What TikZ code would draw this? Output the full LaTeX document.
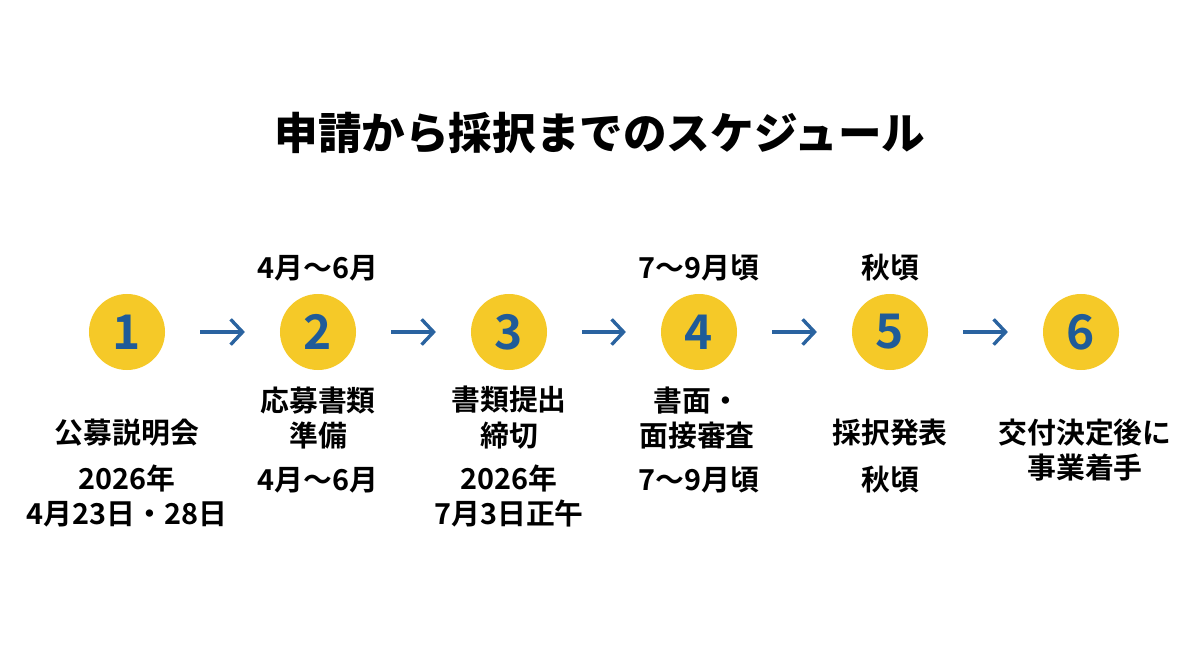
\documentclass[tikz,border=0pt]{standalone}
\usepackage{fontspec}
\setmainfont{Noto Sans CJK JP}[BoldFont={Noto Sans CJK JP Bold}]
\newfontfamily\heavyjp{Noto Sans CJK JP Black}
\usetikzlibrary{arrows.meta}
\definecolor{dotyellow}{HTML}{F5C928}
\definecolor{numblue}{HTML}{1F5B98}
\definecolor{flowblue}{HTML}{2A63A0}

\begin{document}
\begin{tikzpicture}[x=0.025cm, y=-0.025cm,
  numdot/.style={circle, fill=dotyellow, minimum size=1.9cm, inner sep=0pt,
    text=numblue, font=\fontsize{34}{34}\selectfont\bfseries},
  flow/.style={draw=flowblue, line width=2.4pt,
    -{Straight Barb[length=8.5pt, width=18pt]},
    shorten <=0.87cm, shorten >=0.87cm},
  ttl/.style={font=\fontsize{31}{36}\selectfont\heavyjp},
  lbl/.style={font=\fontsize{20.5}{25.5}\selectfont\bfseries, align=center, inner sep=0pt},
  when/.style={lbl}]
  \useasboundingbox (0,0) rectangle (1200,655);
  % title
  \node[ttl] (title) at (600,133) {申請から採択までのスケジュール};
  % steps
  \node[numdot] (s1) at (127,332) {1};
  \node[numdot] (s2) at (318,332) {2};
  \node[numdot] (s3) at (509,332) {3};
  \node[numdot] (s4) at (699,332) {4};
  \node[numdot] (s5) at (890,332) {5};
  \node[numdot] (s6) at (1081,332) {6};
  % arrows
  \draw[flow] (s1) -- (s2);
  \draw[flow] (s2) -- (s3);
  \draw[flow] (s3) -- (s4);
  \draw[flow] (s4) -- (s5);
  \draw[flow] (s5) -- (s6);
  % dates above
  \node[when] (top2) at (318,268) {4月〜6月};
  \node[when] (top4) at (699,268) {7〜9月頃};
  \node[when] (top5) at (890,268) {秋頃};
  % names below
  \node[lbl] (name1) at (127,433) {公募説明会};
  \node[lbl] (name2) at (318,418) {応募書類\\準備};
  \node[lbl] (name3) at (509,418) {書類提出\\締切};
  \node[lbl] (name4) at (697,418) {書面・\\面接審査};
  \node[lbl] (name5) at (890,433) {採択発表};
  \node[lbl] (name6) at (1085,450) {交付決定後に\\事業着手};
  % dates below
  \node[when] (date1) at (127,496) {2026年\\4月23日・28日};
  \node[when] (date2) at (318,480) {4月〜6月};
  \node[when] (date3) at (509,496) {2026年\\7月3日正午};
  \node[when] (date4) at (699,480) {7〜9月頃};
  \node[when] (date5) at (890,480) {秋頃};
\end{tikzpicture}
\end{document}
